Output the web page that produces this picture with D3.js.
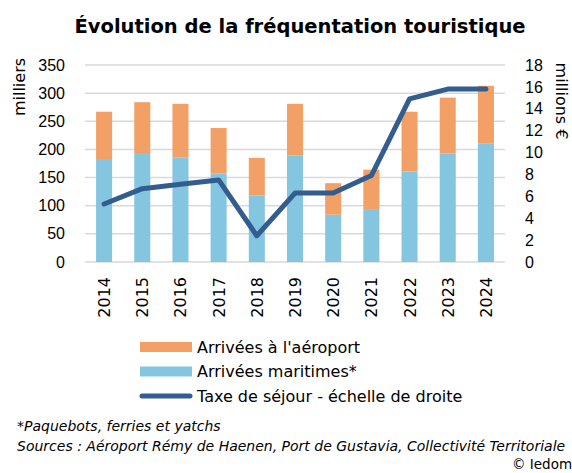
<!DOCTYPE html>
<html lang="fr">
<head>
<meta charset="UTF-8">
<title>Évolution de la fréquentation touristique</title>
<script src="https://d3js.org/d3.v7.min.js"></script>
<style>
  html, body { margin: 0; padding: 0; background: #fff; }
  svg { display: block; font-family: "DejaVu Sans", Verdana, sans-serif; }
</style>
</head>
<body>
<div id="chart"></div>
<script>
// data
var years = ["2014","2015","2016","2017","2018","2019","2020","2021","2022","2023","2024"];
var maritimes = [183, 192, 186, 157, 118, 189, 84, 94, 161, 193, 211];      // milliers
var aeroport  = [84, 92, 95, 81, 67, 92, 56, 70, 106, 99, 102];             // milliers
var taxe      = [5.3, 6.7, 7.1, 7.5, 2.4, 6.3, 6.3, 7.9, 14.9, 15.8, 15.8]; // millions €
var leftTicks = [0, 50, 100, 150, 200, 250, 300, 350];
var rightTicks = [0, 2, 4, 6, 8, 10, 12, 14, 16, 18];

var W = 572, H = 473;
var orange = "#f2a065", blue = "#84c5df", navy = "#335d8e", grid = "#d9d9d9";

var svg = d3.select("#chart").append("svg")
    .attr("width", W).attr("height", H);

var x = d3.scaleBand().domain(years).range([85, 505]).paddingInner(0.58).paddingOuter(0.29);
var y = d3.scaleLinear().domain([0, 350]).range([262, 65]);
var y2 = d3.scaleLinear().domain([0, 18]).range([262, 65]);

// title
svg.append("text")
    .attr("x", 300).attr("y", 33)
    .attr("text-anchor", "middle")
    .style("font-weight", "bold").style("font-size", "19.5px")
    .text("Évolution de la fréquentation touristique");

// gridlines
svg.append("g").selectAll("line")
    .data(leftTicks).enter().append("line")
    .attr("x1", 85).attr("x2", 505)
    .attr("y1", d => y(d)).attr("y2", d => y(d))
    .attr("stroke", grid).attr("stroke-width", 1.5);

// left axis
var gl = svg.append("g").attr("transform", "translate(65,0)")
    .call(d3.axisLeft(y).tickValues(leftTicks).tickSize(0).tickPadding(0));
gl.select(".domain").remove();
gl.selectAll("text").style("font-size", "16px").style("font-family", null).attr("fill", "#000");

// right axis
var gr = svg.append("g").attr("transform", "translate(525,0)")
    .call(d3.axisRight(y2).tickValues(rightTicks).tickSize(0).tickPadding(0));
gr.select(".domain").remove();
gr.selectAll("text").style("font-size", "16px").style("font-family", null).attr("fill", "#000");

// bottom axis labels (rotated)
svg.append("g").selectAll("text")
    .data(years).enter().append("text")
    .attr("transform", d => "translate(" + (x(d) + x.bandwidth() / 2 + 6) + ",277)rotate(-90)")
    .attr("text-anchor", "end")
    .style("font-size", "16px")
    .text(d => d);

// axis titles
svg.append("text")
    .attr("transform", "translate(25,87)rotate(-90)")
    .attr("text-anchor", "middle")
    .style("font-size", "16px")
    .text("milliers");
svg.append("text")
    .attr("transform", "translate(556,101)rotate(90)")
    .attr("text-anchor", "middle")
    .style("font-size", "16px")
    .text("millions €");

// stacked bars
var rows = years.map((yr, i) => ({ year: yr, maritimes: maritimes[i], aeroport: aeroport[i] }));
var stacked = d3.stack().keys(["maritimes", "aeroport"])(rows);
var color = d3.scaleOrdinal().domain(["maritimes", "aeroport"]).range([blue, orange]);

svg.append("g").selectAll("g")
    .data(stacked).enter().append("g")
    .attr("fill", d => color(d.key))
    .selectAll("rect")
    .data(d => d).enter().append("rect")
    .attr("x", d => x(d.data.year))
    .attr("y", d => y(d[1]))
    .attr("height", d => y(d[0]) - y(d[1]))
    .attr("width", x.bandwidth());

// line
var line = d3.line()
    .x((d, i) => x(years[i]) + x.bandwidth() / 2)
    .y(d => y2(d));
svg.append("path")
    .datum(taxe)
    .attr("d", line)
    .attr("fill", "none")
    .attr("stroke", navy)
    .attr("stroke-width", 5)
    .attr("stroke-linejoin", "round")
    .attr("stroke-linecap", "round");

// legend
var legendItems = [
    { label: "Arrivées à l'aéroport", type: "rect", color: orange },
    { label: "Arrivées maritimes*", type: "rect", color: blue },
    { label: "Taxe de séjour - échelle de droite", type: "line", color: navy }
];
var legend = svg.selectAll(".legend")
    .data(legendItems).enter().append("g")
    .attr("class", "legend")
    .attr("transform", (d, i) => "translate(140," + (347 + i * 24.5) + ")");
legend.filter(d => d.type === "rect").append("rect")
    .attr("x", 0).attr("y", -5).attr("width", 52).attr("height", 10)
    .attr("fill", d => d.color);
legend.filter(d => d.type === "line").append("line")
    .attr("x1", 2).attr("x2", 50).attr("y1", 0).attr("y2", 0)
    .attr("stroke", d => d.color).attr("stroke-width", 5).attr("stroke-linecap", "round");
legend.append("text")
    .attr("x", 57).attr("dy", "0.35em")
    .style("font-size", "16px")
    .text(d => d.label);

// notes
svg.append("text").attr("x", 17).attr("y", 431)
    .style("font-style", "italic").style("font-size", "14px")
    .text("*Paquebots, ferries et yatchs");
svg.append("text").attr("x", 17).attr("y", 451)
    .style("font-style", "italic").style("font-size", "14px")
    .text("Sources : Aéroport Rémy de Haenen, Port de Gustavia, Collectivité Territoriale");
svg.append("text").attr("x", 512).attr("y", 469)
    .style("font-size", "13.5px")
    .text("© Iedom");
</script>
</body>
</html>
